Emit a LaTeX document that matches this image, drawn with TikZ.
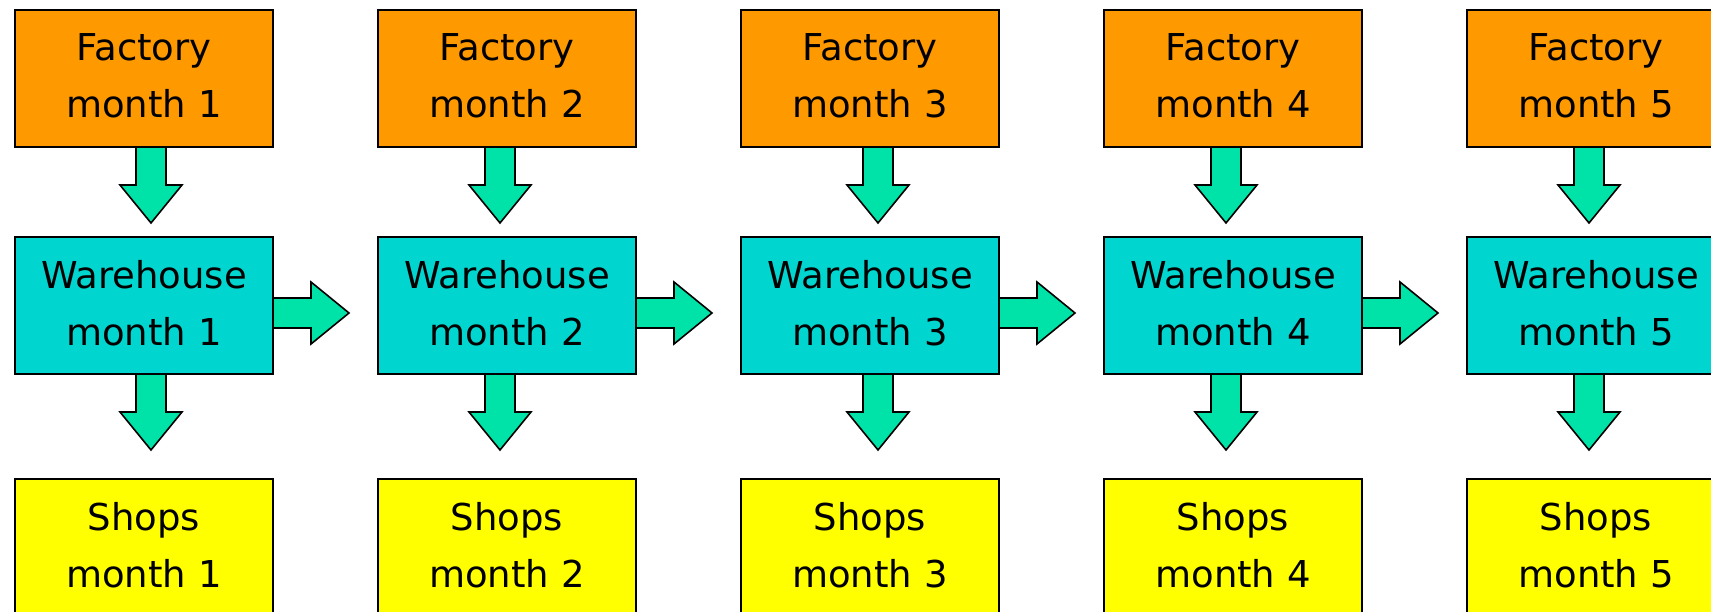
\documentclass[tikz,border=0pt]{standalone}
\usepackage{fontspec}
\setmainfont{DejaVu Sans}
\usepackage{tikz}
\usetikzlibrary{positioning,calc}

\definecolor{factoryorange}{HTML}{FF9900}
\definecolor{housecyan}{HTML}{00D5CF}
\definecolor{flowgreen}{HTML}{00E3A8}
\definecolor{shopyellow}{HTML}{FFFF00}

\tikzset{
  stage/.style={draw=black, line width=1.6pt, outer sep=0pt, inner sep=0pt,
    minimum width=258pt, minimum height=137pt, align=center,
    font=\fontsize{37}{57}\selectfont,
    execute at end node={\rule[-6pt]{0pt}{6pt}}},
  factory/.style={stage, fill=factoryorange},
  warehouse/.style={stage, fill=housecyan},
  shops/.style={stage, fill=shopyellow},
  fatarrow/.style={draw=black, line width=1.6pt, fill=flowgreen, line join=miter},
}

% block arrow going down out of #2 towards #3, moved sideways by #1
\newcommand{\fatdown}[3][7pt]{%
  \draw[fatarrow] let \p1=($(#2.south)+(#1,0)$),
                      \p2=($(#2.south)!76pt!(#3.north)+(#1,0)$) in
    (\x1-15pt,\y1) -- (\x1-15pt,\y2+38pt) -- (\x1-31pt,\y2+38pt) -- (\p2)
    -- (\x1+31pt,\y2+38pt) -- (\x1+15pt,\y2+38pt) -- (\x1+15pt,\y1) -- cycle;
}
% block arrow going right out of #1 towards #2
\newcommand{\fatright}[2]{%
  \draw[fatarrow] let \p1=($(#1.east)+(0,-7.5pt)$),
                      \p2=($(#1.east)!76pt!(#2.west)+(0,-7.5pt)$) in
    (\x1,\y1+15pt) -- (\x2-38pt,\y1+15pt) -- (\x2-38pt,\y1+31pt) -- (\p2)
    -- (\x2-38pt,\y1-31pt) -- (\x2-38pt,\y1-15pt) -- (\x1,\y1-15pt) -- cycle;
}

\begin{document}
\begin{tikzpicture}
\useasboundingbox (0,0) rectangle (1711pt,-612pt);

% month 1
\node[factory] (f1) at (144pt,-78.5pt) {Factory\\month 1};
\node[warehouse] (w1) [below=90pt of f1] {Warehouse\\month 1};
\node[shops] (s1) [below=105pt of w1] {Shops\\month 1};

% month 2
\node[factory] (f2) [right=105pt of f1] {Factory\\month 2};
\node[warehouse] (w2) [below=90pt of f2] {Warehouse\\month 2};
\node[shops] (s2) [below=105pt of w2] {Shops\\month 2};

% month 3
\node[factory] (f3) [right=105pt of f2] {Factory\\month 3};
\node[warehouse] (w3) [below=90pt of f3] {Warehouse\\month 3};
\node[shops] (s3) [below=105pt of w3] {Shops\\month 3};

% month 4
\node[factory] (f4) [right=105pt of f3] {Factory\\month 4};
\node[warehouse] (w4) [below=90pt of f4] {Warehouse\\month 4};
\node[shops] (s4) [below=105pt of w4] {Shops\\month 4};

% month 5
\node[factory] (f5) [right=105pt of f4] {Factory\\month 5};
\node[warehouse] (w5) [below=90pt of f5] {Warehouse\\month 5};
\node[shops] (s5) [below=105pt of w5] {Shops\\month 5};

% factory -> warehouse
\fatdown{f1}{w1}
\fatdown[-7pt]{f2}{w2}
\fatdown[8pt]{f3}{w3}
\fatdown[-7pt]{f4}{w4}
\fatdown[-7pt]{f5}{w5}

% warehouse -> shops
\fatdown{w1}{s1}
\fatdown[-7pt]{w2}{s2}
\fatdown[8pt]{w3}{s3}
\fatdown[-7pt]{w4}{s4}
\fatdown[-7pt]{w5}{s5}

% stock carried over to next month
\fatright{w1}{w2}
\fatright{w2}{w3}
\fatright{w3}{w4}
\fatright{w4}{w5}
\end{tikzpicture}
\end{document}
